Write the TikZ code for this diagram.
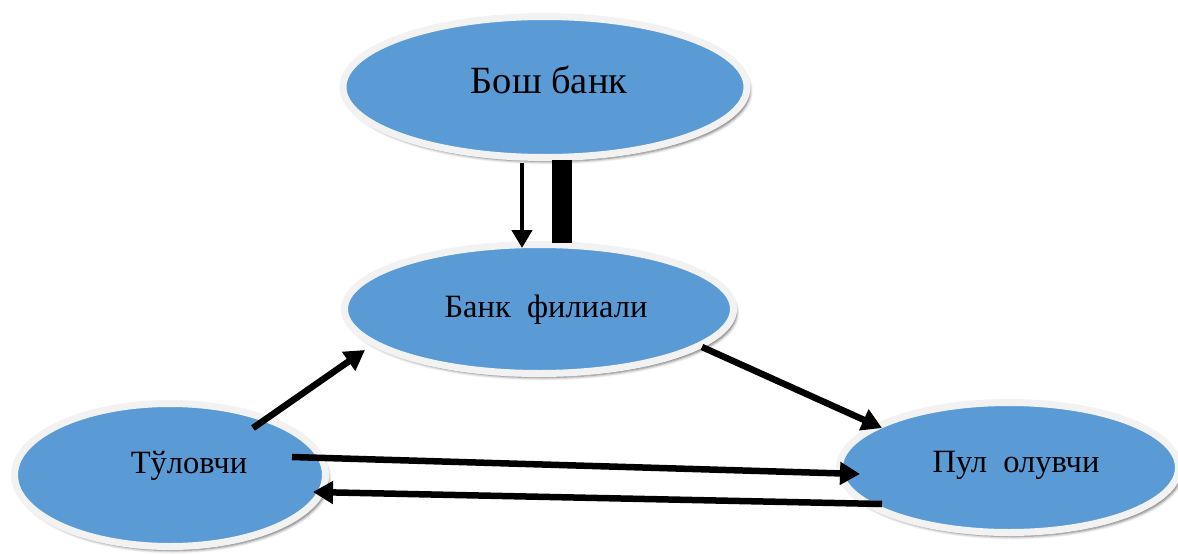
\documentclass[tikz,border=0pt]{standalone}
\usepackage{fontspec}
\setmainfont{Liberation Serif}
\usetikzlibrary{shapes.geometric,arrows.meta,shadows.blur}
\definecolor{fillblue}{HTML}{5B9BD5}
\definecolor{ringgray}{HTML}{F2F2F2}
\begin{document}
\begin{tikzpicture}[x=1pt,y=-1pt,
  bubble/.style={ellipse, inner sep=0pt, fill=fillblue, draw=ringgray, line width=7pt,
    blur shadow={shadow xshift=3pt, shadow yshift=-4pt, shadow opacity=60, shadow blur radius=3pt}},
  lbl/.style={inner sep=0pt, anchor=base, text=black, font=\fontsize{32.5}{38}\selectfont},
  arr/.style={line width=6.5pt, -{Triangle[length=20pt,width=22pt]}},
  thinarr/.style={line width=4.5pt, -{Triangle[length=18pt,width=20pt]}},
  barline/.style={line width=20pt, line cap=butt}
]
\useasboundingbox (0,0) rectangle (1178,554);

\node[bubble, minimum width=404pt, minimum height=141pt] (bosh) at (545,87) {};
\node[bubble, minimum width=389pt, minimum height=129pt] (filial) at (539,309) {};
\node[bubble, minimum width=311pt, minimum height=143pt] (tul) at (170,475) {};
\node[bubble, minimum width=339pt, minimum height=130pt] (pul) at (1009,467.5) {};

\node[lbl, font=\fontsize{38.5}{46}\selectfont] (boshT) at (549,93) {Бош банк};
\node[lbl] (filialT) at (546,317) {Банк\ \ филиали};
\node[lbl] (tulT) at (189,473) {Тўловчи};
\node[lbl] (pulT) at (1016,472) {Пул\ \ олувчи};

\coordinate (a1s) at (522,163);
\coordinate (a1e) at (522,248);
\coordinate (b1s) at (562,160);
\coordinate (b1e) at (562,243);
\coordinate (a2s) at (253,428);
\coordinate (a2e) at (365,350);
\coordinate (a3s) at (702,347);
\coordinate (a3e) at (882,428);
\coordinate (a4s) at (292,457);
\coordinate (a4e) at (860,474);
\coordinate (a5s) at (882,504);
\coordinate (a5e) at (313,492);

\draw[thinarr] (a1s) -- (a1e);
\draw[barline] (b1s) -- (b1e);
\draw[arr] (a2s) -- (a2e);
\draw[arr] (a3s) -- (a3e);
\draw[arr] (a4s) -- (a4e);
\draw[arr] (a5s) -- (a5e);
\end{tikzpicture}
\end{document}
